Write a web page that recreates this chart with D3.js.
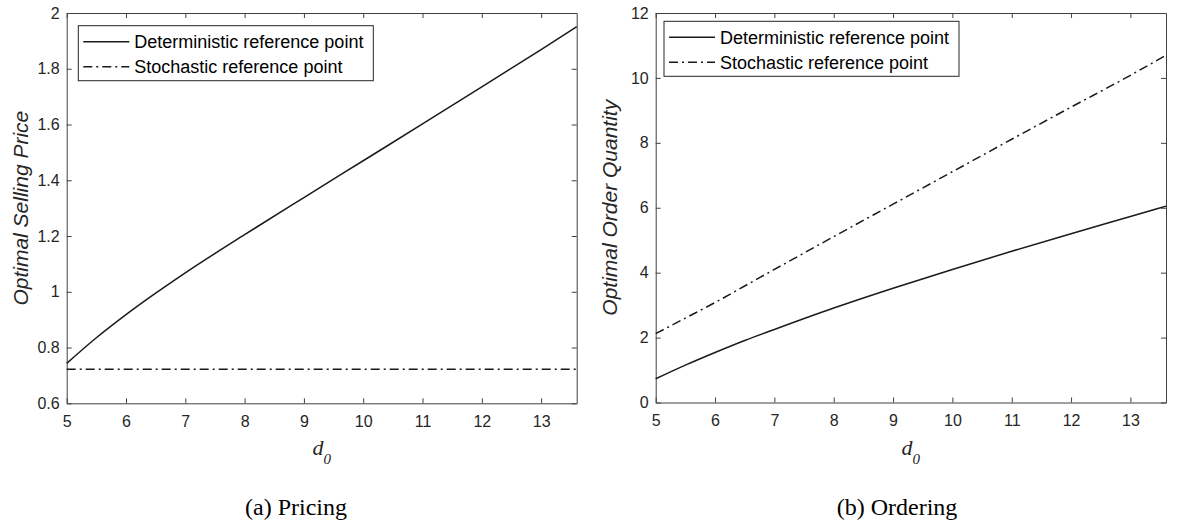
<!DOCTYPE html>
<html>
<head>
<meta charset="utf-8">
<title>Pricing and Ordering</title>
<script src="https://d3js.org/d3.v7.min.js"></script>
<style>
  body { margin: 0; background: #fff; }
  .tick text { font-family: "Liberation Sans", Arial, sans-serif; font-size: 16px; fill: #262626; }
  .tick line, .domain { stroke: #404040; }
</style>
</head>
<body>
<div id="home"></div>
<script>
const d0 = [5, 5.5, 6, 6.5, 7, 8, 9, 10, 11, 12, 13, 13.6];

// (a) pricing
const priceDet = [0.743, 0.835, 0.918, 0.995, 1.068, 1.205, 1.338, 1.470, 1.602, 1.735, 1.869, 1.951];
const priceSto = [0.722, 0.722, 0.722, 0.722, 0.722, 0.722, 0.722, 0.722, 0.722, 0.722, 0.722, 0.722];

// (b) ordering
const orderDet = [0.73, 1.15, 1.54, 1.91, 2.25, 2.91, 3.52, 4.10, 4.66, 5.20, 5.73, 6.05];
const orderSto = [2.12, 2.60, 3.08, 3.59, 4.10, 5.11, 6.11, 7.11, 8.11, 9.10, 10.08, 10.70];

const xTicks = [5, 6, 7, 8, 9, 10, 11, 12, 13];
const priceTicks = [0.6, 0.8, 1, 1.2, 1.4, 1.6, 1.8, 2];
const orderTicks = [0, 2, 4, 6, 8, 10, 12];
const legendLabels = ["Deterministic reference point", "Stochastic reference point"];

const w = 1179, h = 532;
const svg = d3.select("#home").append("svg")
  .attr("width", w).attr("height", h)
  .style("display", "block");

function panel(opt) {
  const x = d3.scaleLinear().domain([5, 13.6]).range([opt.left, opt.right]);
  const y = d3.scaleLinear().domain(opt.yDomain).range([opt.bottom, opt.top]);
  const g = svg.append("g");

  g.append("g").attr("transform", `translate(0,${opt.bottom})`)
    .call(d3.axisBottom(x).tickValues(xTicks).tickSizeInner(-5).tickSizeOuter(0).tickPadding(12));
  g.append("g").attr("transform", `translate(0,${opt.top})`)
    .call(d3.axisTop(x).tickValues(xTicks).tickSizeInner(-5).tickSizeOuter(0).tickFormat(""));
  g.append("g").attr("transform", `translate(${opt.left},0)`)
    .call(d3.axisLeft(y).tickValues(opt.yTicks).tickSizeInner(-5).tickSizeOuter(0).tickPadding(7)
      .tickFormat(d3.format("~g")));
  g.append("g").attr("transform", `translate(${opt.right},0)`)
    .call(d3.axisRight(y).tickValues(opt.yTicks).tickSizeInner(-5).tickSizeOuter(0).tickFormat(""));

  const line = d3.line().x((d, i) => x(d0[i])).y(d => y(d)).curve(d3.curveMonotoneX);

  g.append("path").datum(opt.det)
    .attr("d", line).attr("fill", "none")
    .attr("stroke", "#1a1a1a").attr("stroke-width", 1.5);
  g.append("path").datum(opt.sto)
    .attr("d", line).attr("fill", "none")
    .attr("stroke", "#1a1a1a").attr("stroke-width", 1.5)
    .attr("stroke-dasharray", "9,4,2,4");

  // y label
  g.append("text")
    .attr("transform", `translate(${opt.left - 39},${(opt.top + opt.bottom) / 2}) rotate(-90)`)
    .attr("text-anchor", "middle")
    .style("font-family", "'Liberation Sans', Arial, sans-serif")
    .style("font-size", "21px").style("font-style", "italic")
    .attr("fill", "#262626")
    .text(opt.yLabel);

  // x label d_0
  const xl = g.append("text")
    .attr("x", (opt.left + opt.right) / 2).attr("y", 455)
    .attr("text-anchor", "middle")
    .style("font-family", "'Liberation Serif', 'Times New Roman', serif")
    .style("font-style", "italic").attr("fill", "#262626");
  xl.append("tspan").style("font-size", "22px").text("d");
  xl.append("tspan").attr("dy", 9).style("font-size", "15px").text("0");

  // legend
  const lg = g.append("g").attr("transform", `translate(${opt.lx},${opt.ly})`);
  lg.append("rect").attr("width", 295).attr("height", 55)
    .attr("fill", "#fff").attr("stroke", "#262626").attr("stroke-width", 1);
  legendLabels.forEach((lab, i) => {
    const cy = 16 + i * 25;
    lg.append("line").attr("x1", 5).attr("x2", 51).attr("y1", cy).attr("y2", cy)
      .attr("stroke", "#1a1a1a").attr("stroke-width", 1.5)
      .attr("stroke-dasharray", i === 1 ? "9,4,2,4" : null);
    lg.append("text").attr("x", 56).attr("y", cy + 6.5)
      .style("font-family", "'Liberation Sans', Arial, sans-serif")
      .style("font-size", "18px").attr("fill", "#000")
      .text(lab);
  });

  // caption
  svg.append("text")
    .attr("x", opt.capX).attr("y", 515)
    .attr("text-anchor", "middle")
    .style("font-family", "'Liberation Serif', 'Times New Roman', serif")
    .style("font-size", "24px").attr("fill", "#000")
    .text(opt.caption);
}

panel({
  left: 66.7, right: 576.7, top: 13, bottom: 403.3,
  yDomain: [0.6, 2], yTicks: priceTicks,
  det: priceDet, sto: priceSto,
  yLabel: "Optimal Selling Price",
  lx: 78.3, ly: 25.7,
  caption: "(a)  Pricing", capX: 296
});

panel({
  left: 655.7, right: 1166, top: 13, bottom: 402.5,
  yDomain: [0, 12], yTicks: orderTicks,
  det: orderDet, sto: orderSto,
  yLabel: "Optimal Order Quantity",
  lx: 664, ly: 21.3,
  caption: "(b)  Ordering", capX: 897
});
</script>
</body>
</html>
